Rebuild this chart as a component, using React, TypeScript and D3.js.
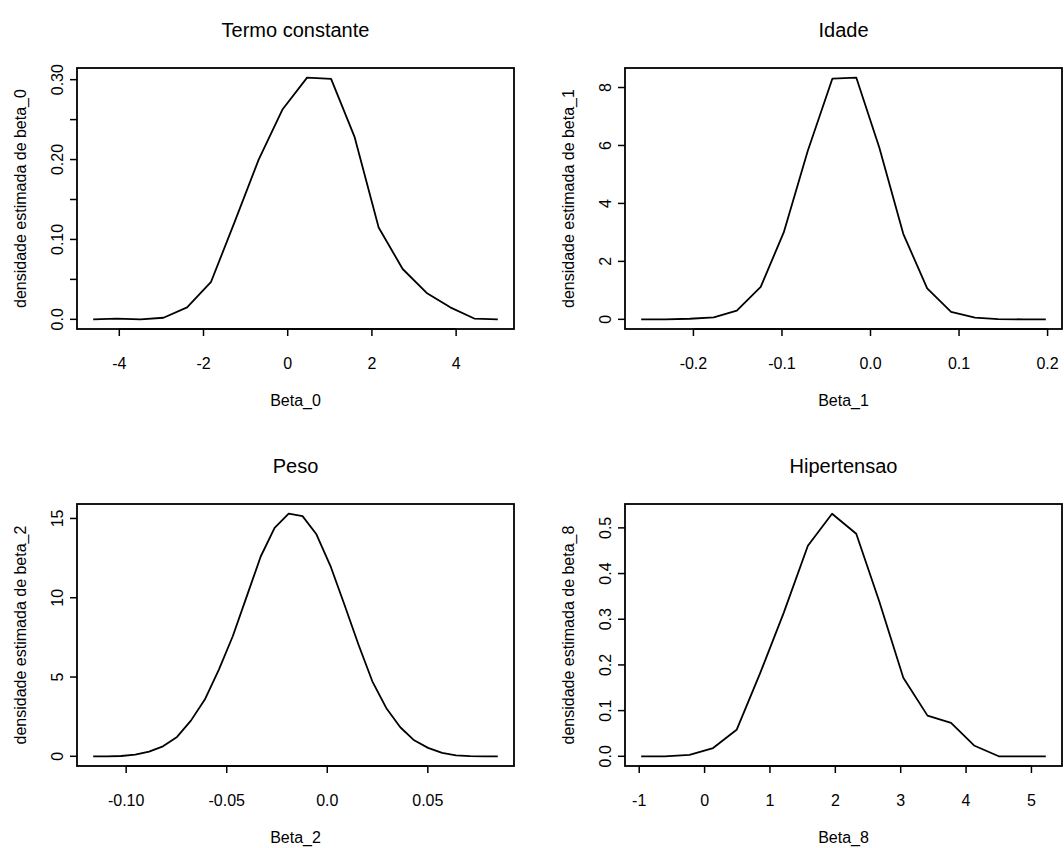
import React from "react";
import * as d3 from "d3";

// Posterior density estimates for each regression coefficient
const beta0X = [-4.62, -4.06, -3.5, -2.95, -2.39, -1.82, -1.26, -0.69, -0.12, 0.46, 1.03, 1.59, 2.16, 2.73, 3.3, 3.86, 4.43, 4.99];
const beta0Y = [0.0, 0.001, 0.0, 0.002, 0.015, 0.047, 0.122, 0.2, 0.263, 0.3025, 0.301, 0.228, 0.115, 0.063, 0.033, 0.015, 0.001, 0.0];

const beta1X = [-0.259, -0.232, -0.204, -0.177, -0.151, -0.124, -0.098, -0.071, -0.043, -0.016, 0.01, 0.037, 0.064, 0.091, 0.118, 0.144, 0.172, 0.198];
const beta1Y = [0, 0, 0.02, 0.07, 0.3, 1.12, 3.0, 5.8, 8.31, 8.34, 5.92, 2.95, 1.07, 0.26, 0.06, 0.01, 0, 0];

const beta2X = [
  -0.1164, -0.1094, -0.1025, -0.0955, -0.0886, -0.0817, -0.0747, -0.0678, -0.0609, -0.0539,
  -0.047, -0.04, -0.0331, -0.0262, -0.0192, -0.0123, -0.0054, 0.0016, 0.0085, 0.0155,
  0.0224, 0.0293, 0.0363, 0.0432, 0.0501, 0.0571, 0.064, 0.071, 0.0779, 0.0848,
];
const beta2Y = [
  0, 0, 0.02, 0.1, 0.3, 0.63, 1.22, 2.25, 3.58, 5.47,
  7.57, 10.1, 12.6, 14.4, 15.3, 15.15, 14.0, 12.0, 9.57, 7.05,
  4.73, 3.05, 1.83, 1.01, 0.53, 0.21, 0.06, 0.01, 0, 0,
];

const beta8X = [-0.97, -0.61, -0.23, 0.13, 0.49, 0.85, 1.21, 1.58, 1.95, 2.32, 2.67, 3.04, 3.41, 3.77, 4.13, 4.5, 4.86, 5.22];
const beta8Y = [0, 0, 0.003, 0.018, 0.058, 0.182, 0.314, 0.461, 0.531, 0.487, 0.34, 0.172, 0.089, 0.073, 0.023, 0, 0, 0];

// Axis ticks and their labels (blank label = unlabelled tick)
const beta0XTicks = [-4, -2, 0, 2, 4];
const beta0XLabels = ["-4", "-2", "0", "2", "4"];
const beta0YTicks = [0, 0.05, 0.1, 0.15, 0.2, 0.25, 0.3];
const beta0YLabels = ["0.0", "", "0.10", "", "0.20", "", "0.30"];

const beta1XTicks = [-0.2, -0.1, 0, 0.1, 0.2];
const beta1XLabels = ["-0.2", "-0.1", "0.0", "0.1", "0.2"];
const beta1YTicks = [0, 2, 4, 6, 8];
const beta1YLabels = ["0", "2", "4", "6", "8"];

const beta2XTicks = [-0.1, -0.05, 0, 0.05];
const beta2XLabels = ["-0.10", "-0.05", "0.0", "0.05"];
const beta2YTicks = [0, 5, 10, 15];
const beta2YLabels = ["0", "5", "10", "15"];

const beta8XTicks = [-1, 0, 1, 2, 3, 4, 5];
const beta8XLabels = ["-1", "0", "1", "2", "3", "4", "5"];
const beta8YTicks = [0, 0.1, 0.2, 0.3, 0.4, 0.5];
const beta8YLabels = ["0.0", "0.1", "0.2", "0.3", "0.4", "0.5"];

const titles = ["Termo constante", "Idade", "Peso", "Hipertensao"];
const xLabels = ["Beta_0", "Beta_1", "Beta_2", "Beta_8"];
const yLabels = [
  "densidade estimada de beta_0",
  "densidade estimada de beta_1",
  "densidade estimada de beta_2",
  "densidade estimada de beta_8",
];

const W = 1064;
const H = 848;
const FONT = "'Liberation Sans', Arial, Helvetica, sans-serif";

// Plot boxes: [left, top, right, bottom]
const boxes = [
  [77, 68, 514, 329],
  [625, 68, 1062, 329],
  [77, 504, 514, 766],
  [625, 504, 1062, 766],
];

const panels = [
  { x: beta0X, y: beta0Y, xt: beta0XTicks, xl: beta0XLabels, yt: beta0YTicks, yl: beta0YLabels },
  { x: beta1X, y: beta1Y, xt: beta1XTicks, xl: beta1XLabels, yt: beta1YTicks, yl: beta1YLabels },
  { x: beta2X, y: beta2Y, xt: beta2XTicks, xl: beta2XLabels, yt: beta2YTicks, yl: beta2YLabels },
  { x: beta8X, y: beta8Y, xt: beta8XTicks, xl: beta8XLabels, yt: beta8YTicks, yl: beta8YLabels },
];

// R-style axis range: data extent padded by 4% on each side
function padded(vals: number[]): [number, number] {
  const [lo, hi] = d3.extent(vals) as [number, number];
  const d = (hi - lo) * 0.04;
  return [lo - d, hi + d];
}

function Panel({ i }: { i: number }) {
  const p = panels[i];
  const [L, T, R, B] = boxes[i];
  const xs = d3.scaleLinear().domain(padded(p.x)).range([L, R]);
  const ys = d3.scaleLinear().domain(padded(p.y)).range([B, T]);
  const pts = p.x.map((v, k) => [v, p.y[k]] as [number, number]);
  const line = d3
    .line<[number, number]>()
    .x((d) => xs(d[0]))
    .y((d) => ys(d[1]));
  const tick = 7;
  const cx = (L + R) / 2;
  const cy = (T + B) / 2;
  return (
    <g>
      <text x={cx} y={T - 31} textAnchor="middle" fontSize={20} fontFamily={FONT}>
        {titles[i]}
      </text>
      <path d={line(pts) || ""} fill="none" stroke="#000" strokeWidth={1.8} strokeLinejoin="round" />
      <rect x={L} y={T} width={R - L} height={B - T} fill="none" stroke="#000" strokeWidth={1.8} />
      {p.xt.map((t, k) => (
        <g key={"x" + k}>
          <line x1={xs(t)} x2={xs(t)} y1={B} y2={B + tick} stroke="#000" strokeWidth={1.5} />
          <text x={xs(t)} y={B + 40} textAnchor="middle" fontSize={16} fontFamily={FONT}>
            {p.xl[k]}
          </text>
        </g>
      ))}
      <line x1={xs(p.xt[0])} x2={xs(p.xt[p.xt.length - 1])} y1={B} y2={B} stroke="#000" strokeWidth={1.5} />
      {p.yt.map((t, k) => (
        <g key={"y" + k}>
          <line x1={L - tick} x2={L} y1={ys(t)} y2={ys(t)} stroke="#000" strokeWidth={1.5} />
          {p.yl[k] !== "" && (
            <text
              transform={`translate(${L - 14},${ys(t)}) rotate(-90)`}
              textAnchor="middle"
              fontSize={16}
              fontFamily={FONT}
            >
              {p.yl[k]}
            </text>
          )}
        </g>
      ))}
      <text x={cx} y={B + 77} textAnchor="middle" fontSize={16} fontFamily={FONT}>
        {xLabels[i]}
      </text>
      <text
        transform={`translate(${L - 51},${cy}) rotate(-90)`}
        textAnchor="middle"
        fontSize={16}
        fontFamily={FONT}
      >
        {yLabels[i]}
      </text>
    </g>
  );
}

export default function App() {
  return (
    <svg
      width={W}
      height={H}
      viewBox={`0 0 ${W} ${H}`}
      style={{ position: "absolute", left: 0, top: 0, background: "#fff" }}
    >
      <rect width={W} height={H} fill="#fff" />
      {panels.map((_, i) => (
        <Panel key={i} i={i} />
      ))}
    </svg>
  );
}
